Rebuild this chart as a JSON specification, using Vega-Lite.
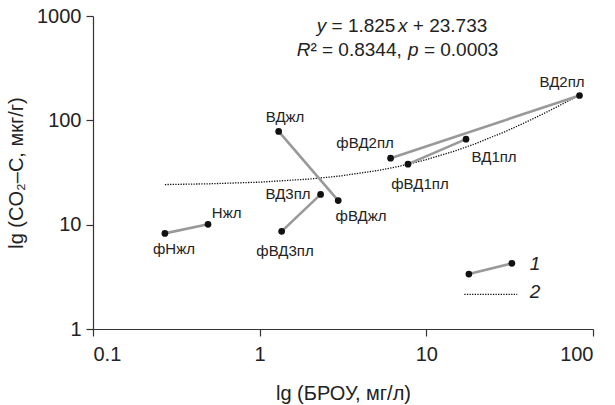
{
  "$schema": "https://vega.github.io/schema/vega-lite/v6.json",
  "width": 500,
  "height": 313,
  "autosize": "none",
  "padding": {"left": 93, "top": 16, "right": 22, "bottom": 76},
  "background": "white",
  "config": {
    "view": {"stroke": null},
    "font": "Liberation Sans",
    "axis": {
      "grid": false,
      "domainColor": "#333333",
      "tickColor": "#333333",
      "labelColor": "#222222",
      "titleColor": "#222222",
      "labelFont": "Liberation Sans",
      "titleFont": "Liberation Sans",
      "labelFontSize": 20,
      "titleFontSize": 20,
      "titleFontWeight": "normal",
      "tickSize": 7,
      "domainWidth": 1.2,
      "tickWidth": 1.2
    }
  },
  "datasets": {
    "pts": [
      {"name": "фНжл", "x": 0.27, "y": 8.25, "pair": "Н", "lx": 0.306, "ly": 5.84},
      {"name": "Нжл", "x": 0.49, "y": 10.07, "pair": "Н", "lx": 0.634, "ly": 12.9},
      {"name": "фВД3пл", "x": 1.355, "y": 8.63, "pair": "ВД3", "lx": 1.42, "ly": 5.58},
      {"name": "ВД3пл", "x": 2.32, "y": 19.5, "pair": "ВД3", "lx": 1.48, "ly": 19.6},
      {"name": "ВДжл", "x": 1.3, "y": 78.3, "pair": "ВДж", "lx": 1.42, "ly": 107},
      {"name": "фВДжл", "x": 2.96, "y": 17.0, "pair": "ВДж", "lx": 4.06, "ly": 12.1},
      {"name": "фВД2пл", "x": 6.1, "y": 43.4, "pair": "ВД2", "lx": 4.29, "ly": 60.5},
      {"name": "ВД2пл", "x": 83, "y": 173, "pair": "ВД2", "lx": 65.2, "ly": 232},
      {"name": "фВД1пл", "x": 7.76, "y": 38.0, "pair": "ВД1", "lx": 9.16, "ly": 24.5},
      {"name": "ВД1пл", "x": 17.3, "y": 66, "pair": "ВД1", "lx": 25.5, "ly": 44.4},
      {"name": "", "x": 18.0, "y": 3.36, "pair": "legend"},
      {"name": "", "x": 32.6, "y": 4.26, "pair": "legend"}
    ],
    "fit": [
      {"x": 0.27, "y": 24.23, "s": "fit"},
      {"x": 0.5, "y": 24.65, "s": "fit"},
      {"x": 1, "y": 25.56, "s": "fit"},
      {"x": 2, "y": 27.38, "s": "fit"},
      {"x": 3, "y": 29.21, "s": "fit"},
      {"x": 5, "y": 32.86, "s": "fit"},
      {"x": 7, "y": 36.51, "s": "fit"},
      {"x": 10, "y": 41.98, "s": "fit"},
      {"x": 15, "y": 51.11, "s": "fit"},
      {"x": 20, "y": 60.23, "s": "fit"},
      {"x": 30, "y": 78.48, "s": "fit"},
      {"x": 40, "y": 96.73, "s": "fit"},
      {"x": 50, "y": 114.98, "s": "fit"},
      {"x": 60, "y": 133.23, "s": "fit"},
      {"x": 70, "y": 151.48, "s": "fit"},
      {"x": 83, "y": 175.21, "s": "fit"},
      {"x": 16.9, "y": 2.15, "s": "legend"},
      {"x": 35.1, "y": 2.15, "s": "legend"}
    ],
    "normalText": [
      {"t": "= 1.825", "x": 2.698, "y": 704},
      {"t": "+ 23.733", "x": 8.295, "y": 704},
      {"t": "² = 0.8344,", "x": 2.015, "y": 412},
      {"t": "= 0.0003", "x": 9.67, "y": 412}
    ],
    "italicText": [
      {"t": "y", "x": 2.198, "y": 704},
      {"t": "x", "x": 6.76, "y": 704},
      {"t": "R", "x": 1.667, "y": 412},
      {"t": "p", "x": 7.76, "y": 412}
    ],
    "legendText": [
      {"t": "1", "x": 44.9, "y": 4.2},
      {"t": "2", "x": 44.9, "y": 2.24}
    ]
  },
  "layer": [
    {
      "data": {"name": "fit"},
      "mark": {"type": "line", "color": "#111111", "strokeWidth": 1.3, "strokeDash": [1.3, 1.3]},
      "encoding": {
        "x": {"field": "x", "type": "quantitative", "scale": {"type": "log", "domain": [0.1, 100], "nice": false},
              "axis": {"values": [0.1, 1, 10, 100], "title": "lg (БРОУ, мг/л)", "labelPadding": 8, "titlePadding": 19, "format": "~g"}},
        "y": {"field": "y", "type": "quantitative", "scale": {"type": "log", "domain": [1, 1000], "nice": false},
              "axis": {"values": [1, 10, 100, 1000], "title": "lg (CO₂–C, мкг/г)", "labelPadding": 5, "titlePadding": 10, "format": "~g"}},
        "detail": {"field": "s"}
      }
    },
    {
      "data": {"name": "pts"},
      "mark": {"type": "line", "color": "#999999", "strokeWidth": 2.6},
      "encoding": {
        "x": {"field": "x", "type": "quantitative"},
        "y": {"field": "y", "type": "quantitative"},
        "detail": {"field": "pair"},
        "order": {"field": "x"}
      }
    },
    {
      "data": {"name": "pts"},
      "mark": {"type": "circle", "color": "#111111", "opacity": 1, "size": 45},
      "encoding": {
        "x": {"field": "x", "type": "quantitative"},
        "y": {"field": "y", "type": "quantitative"}
      }
    },
    {
      "data": {"name": "pts"},
      "transform": [{"filter": "datum.name != ''"}],
      "mark": {"type": "text", "fontSize": 15, "color": "#222222", "align": "center", "baseline": "middle"},
      "encoding": {
        "x": {"field": "lx", "type": "quantitative"},
        "y": {"field": "ly", "type": "quantitative"},
        "text": {"field": "name"}
      }
    },
    {
      "data": {"name": "normalText"},
      "mark": {"type": "text", "fontSize": 19, "color": "#222222", "align": "left", "baseline": "alphabetic"},
      "encoding": {
        "x": {"field": "x", "type": "quantitative"},
        "y": {"field": "y", "type": "quantitative"},
        "text": {"field": "t"}
      }
    },
    {
      "data": {"name": "italicText"},
      "mark": {"type": "text", "fontSize": 19, "fontStyle": "italic", "color": "#222222", "align": "left", "baseline": "alphabetic"},
      "encoding": {
        "x": {"field": "x", "type": "quantitative"},
        "y": {"field": "y", "type": "quantitative"},
        "text": {"field": "t"}
      }
    },
    {
      "data": {"name": "legendText"},
      "mark": {"type": "text", "fontSize": 19, "fontStyle": "italic", "color": "#222222", "align": "center", "baseline": "middle"},
      "encoding": {
        "x": {"field": "x", "type": "quantitative"},
        "y": {"field": "y", "type": "quantitative"},
        "text": {"field": "t"}
      }
    }
  ]
}
